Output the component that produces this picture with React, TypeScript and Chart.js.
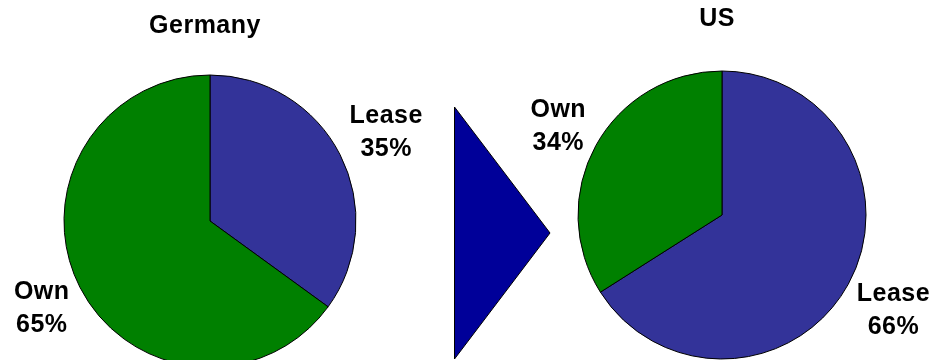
import React, { useEffect, useRef } from "react";
import { Chart, registerables } from "chart.js";

Chart.register(...registerables);

const categories = ["Lease", "Own"];
const germanyValues = [35, 65];
const usValues = [66, 34];
const sliceColors = ["#333399", "#008000"];
const titles = ["Germany", "US"];

const FONT = 'bold 25px "Liberation Sans", Arial, sans-serif';

const pieTextPlugin = {
  id: "pieText",
  afterDatasetsDraw(chart: any, _args: any, opts: any) {
    const ctx = chart.ctx as CanvasRenderingContext2D;
    const meta = chart.getDatasetMeta(0);
    const values = chart.data.datasets[0].data as number[];
    ctx.save();
    ctx.font = FONT;
    (ctx as any).letterSpacing = "0.5px";
    ctx.fillStyle = "#000000";
    ctx.textAlign = "center";
    ctx.textBaseline = "middle";
    meta.data.forEach((arc: any, i: number) => {
      const { x, y, startAngle, endAngle, outerRadius } = arc.getProps(
        ["x", "y", "startAngle", "endAngle", "outerRadius"],
        true
      );
      const mid = (startAngle + endAngle) / 2;
      const lines = [String(chart.data.labels[i]), `${values[i]}%`];
      const w = Math.max(...lines.map((l) => ctx.measureText(l).width));
      const d = outerRadius + 15 + w / 2;
      const cx = x + Math.cos(mid) * d;
      const cy = y + Math.sin(mid) * d + 1.5;
      lines.forEach((l, j) => ctx.fillText(l, cx, cy + (j - 0.5) * 33));
    });
    const a0 = meta.data[0] as any;
    ctx.fillText(opts.title, a0.x - 5, a0.y - a0.outerRadius - opts.titleGap);

    if (opts.arrow) {
      ctx.beginPath();
      ctx.moveTo(454.5, 107);
      ctx.lineTo(550, 233);
      ctx.lineTo(454.5, 359);
      ctx.closePath();
      ctx.fillStyle = "#000099";
      ctx.fill();
      ctx.strokeStyle = "#000000";
      ctx.lineWidth = 1;
      ctx.stroke();
    }
    ctx.restore();
  },
};

function makePie(
  canvas: HTMLCanvasElement,
  values: number[],
  title: string,
  padding: { left: number; right: number; top: number; bottom: number },
  radius: number,
  titleGap: number,
  arrow: boolean
) {
  return new Chart(canvas, {
    type: "pie",
    data: {
      labels: categories,
      datasets: [
        {
          data: values,
          backgroundColor: sliceColors,
          borderColor: "#000000",
          borderWidth: 1,
        },
      ],
    },
    options: {
      responsive: false,
      animation: false,
      radius,
      layout: { padding },
      plugins: {
        legend: { display: false },
        tooltip: { enabled: false },
        title: { display: false },
        pieText: { title, arrow, titleGap },
      } as any,
    },
    plugins: [pieTextPlugin],
  } as any);
}

export default function App() {
  const leftRef = useRef<HTMLCanvasElement>(null);
  const rightRef = useRef<HTMLCanvasElement>(null);

  useEffect(() => {
    document.body.style.margin = "0";
    const c1 = makePie(
      leftRef.current!,
      germanyValues,
      titles[0],
      { left: 60, right: 572, top: 71, bottom: 29 },
      146,
      49,
      true
    );
    const c2 = makePie(
      rightRef.current!,
      usValues,
      titles[1],
      { left: 572, right: 60, top: 65, bottom: 35 },
      144,
      52,
      false
    );
    return () => {
      c1.destroy();
      c2.destroy();
    };
  }, []);

  return (
    <div
      style={{
        position: "relative",
        width: 932,
        height: 360,
        overflow: "hidden",
        background: "#ffffff",
      }}
    >
      <canvas
        ref={leftRef}
        width={932}
        height={400}
        style={{ position: "absolute", left: 0, top: 0 }}
      />
      <canvas
        ref={rightRef}
        width={932}
        height={400}
        style={{ position: "absolute", left: 0, top: 0 }}
      />
    </div>
  );
}
